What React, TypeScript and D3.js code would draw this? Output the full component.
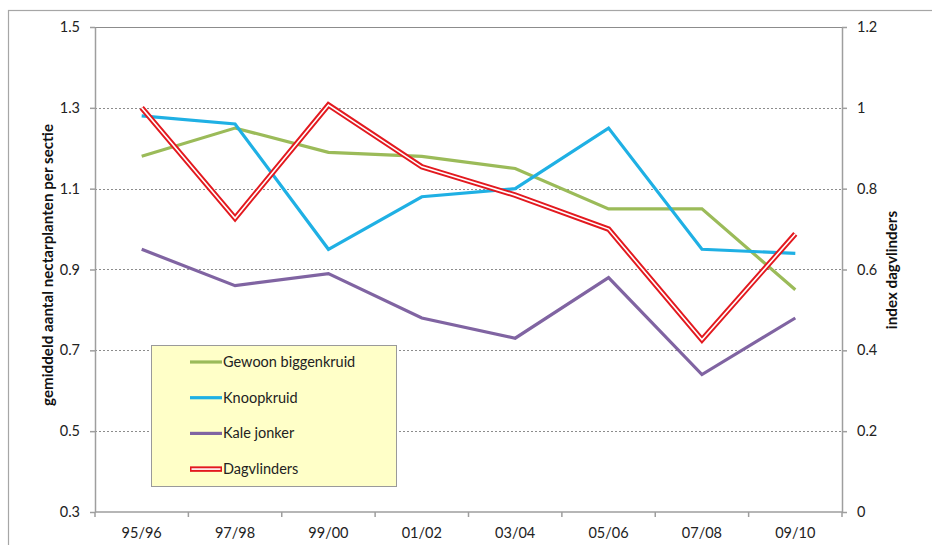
import React, { useEffect, useRef } from "react";
import * as d3 from "d3";

const seasons = ["95/96", "97/98", "99/00", "01/02", "03/04", "05/06", "07/08", "09/10"];
const gewoonBiggenkruid = [1.18, 1.25, 1.19, 1.18, 1.15, 1.05, 1.05, 0.85];
const knoopkruid = [1.28, 1.26, 0.95, 1.08, 1.1, 1.25, 0.95, 0.94];
const kaleJonker = [0.95, 0.86, 0.89, 0.78, 0.73, 0.88, 0.64, 0.78];
const dagvlinders = [1.0, 0.727, 1.007, 0.854, 0.784, 0.7, 0.426, 0.688];
const leftTicks = [0.3, 0.5, 0.7, 0.9, 1.1, 1.3, 1.5];
const rightTicks = [0, 0.2, 0.4, 0.6, 0.8, 1, 1.2];

const W = 932;
const H = 545;
const FONT = "Lato, 'Open Sans', sans-serif";
const FS = 14.5;

export default function App() {
  const ref = useRef<SVGSVGElement>(null);

  useEffect(() => {
    const svg = d3.select(ref.current);
    svg.selectAll("*").remove();

    const left = 95, right = 842, top = 27, bottom = 512;
    const x = d3.scaleBand<string>().domain(seasons).range([left, right]);
    const yL = d3.scaleLinear().domain([0.3, 1.5]).range([bottom, top]);
    const yR = d3.scaleLinear().domain([0, 1.2]).range([bottom, top]);

    svg.append("rect").attr("x", 0).attr("y", 0).attr("width", W).attr("height", H).attr("fill", "#fff");
    // chart frame
    svg.append("rect").attr("x", 8.5).attr("y", 10.5).attr("width", 960).attr("height", 600)
      .attr("fill", "none").attr("stroke", "#a6a6a6").attr("stroke-width", 1.2);

    // gridlines
    svg.append("g").selectAll("line").data(leftTicks.slice(1, -1)).join("line")
      .attr("x1", left).attr("x2", right)
      .attr("y1", (d) => Math.round(yL(d)) + 0.5).attr("y2", (d) => Math.round(yL(d)) + 0.5)
      .attr("stroke", "#8c8c8c").attr("stroke-width", 1).attr("stroke-dasharray", "2,2");
    svg.append("line").attr("x1", left).attr("x2", right).attr("y1", top + 0.5).attr("y2", top + 0.5)
      .attr("stroke", "#8c8c8c").attr("stroke-width", 1);

    const axisColor = "#9e9e9e";
    // left axis
    const gl = svg.append("g").attr("transform", `translate(${left},0)`)
      .call(d3.axisLeft(yL).tickValues(leftTicks).tickFormat(d3.format(".1f")).tickSize(5).tickSizeOuter(0));
    // right axis
    const gr = svg.append("g").attr("transform", `translate(${right},0)`)
      .call(d3.axisRight(yR).tickValues(rightTicks).tickFormat((d) => String(+d)).tickSize(5).tickSizeOuter(0));
    // bottom axis
    const xTicks = d3.range(seasons.length + 1).map((i) => left + i * x.bandwidth());
    const gb = svg.append("g").attr("transform", `translate(0,${bottom})`);
    gb.append("line").attr("x1", left).attr("x2", right).attr("stroke", axisColor).attr("stroke-width", 1.5);
    gb.selectAll("line.t").data(xTicks).join("line").attr("class", "t")
      .attr("x1", (d) => d).attr("x2", (d) => d).attr("y1", 0).attr("y2", 5)
      .attr("stroke", axisColor).attr("stroke-width", 1.5);
    gb.selectAll("text").data(seasons).join("text")
      .attr("x", (d) => (x(d) as number) + x.bandwidth() / 2).attr("y", 26)
      .attr("text-anchor", "middle").attr("font-family", FONT).attr("font-size", FS).attr("fill", "#222")
      .text((d) => d);

    [gl, gr].forEach((g) => {
      g.select(".domain").attr("stroke", axisColor).attr("stroke-width", 1.5);
      g.selectAll(".tick line").attr("stroke", axisColor).attr("stroke-width", 1.5);
      g.selectAll(".tick text").attr("font-family", FONT).attr("font-size", FS).attr("fill", "#222");
    });
    gl.selectAll(".tick text").attr("x", -15);
    gr.selectAll(".tick text").attr("x", 15);

    // axis titles
    svg.append("text").attr("transform", `translate(53,265) rotate(-90)`)
      .attr("text-anchor", "middle").attr("font-family", FONT).attr("font-size", 15.2).attr("font-weight", "bold")
      .attr("fill", "#111").text("gemiddeld aantal nectarplanten per sectie");
    svg.append("text").attr("transform", `translate(897,270) rotate(-90)`)
      .attr("text-anchor", "middle").attr("font-family", FONT).attr("font-size", 15.2).attr("font-weight", "bold")
      .attr("fill", "#111").text("index dagvlinders");

    const cx = (i: number) => (x(seasons[i]) as number) + x.bandwidth() / 2;
    const lineL = d3.line<number>().x((_, i) => cx(i)).y((d) => yL(d));
    const lineR = d3.line<number>().x((_, i) => cx(i)).y((d) => yR(d));

    const series = [
      { data: gewoonBiggenkruid, color: "#9bbb59" },
      { data: knoopkruid, color: "#1fb0e4" },
      { data: kaleJonker, color: "#8064a2" },
    ];
    series.forEach((s) => {
      svg.append("path").attr("d", lineL(s.data)).attr("fill", "none")
        .attr("stroke", s.color).attr("stroke-width", 3.2).attr("stroke-linejoin", "miter");
    });
    svg.append("path").attr("d", lineR(dagvlinders)).attr("fill", "none")
      .attr("stroke", "#e3191f").attr("stroke-width", 5.5).attr("stroke-linejoin", "miter");
    svg.append("path").attr("d", lineR(dagvlinders)).attr("fill", "none")
      .attr("stroke", "#fff").attr("stroke-width", 1.6).attr("stroke-linejoin", "miter");

    // legend
    const lg = svg.append("g").attr("transform", "translate(151,345)");
    lg.append("rect").attr("x", 0.5).attr("y", 0.5).attr("width", 245).attr("height", 141)
      .attr("fill", "#ffffc8").attr("stroke", "#9a9a9a").attr("stroke-width", 1);
    const items = [
      { name: "Gewoon biggenkruid", color: "#9bbb59", double: false },
      { name: "Knoopkruid", color: "#1fb0e4", double: false },
      { name: "Kale jonker", color: "#8064a2", double: false },
      { name: "Dagvlinders", color: "#e3191f", double: true },
    ];
    items.forEach((it, i) => {
      const yy = 17 + i * 35.7;
      lg.append("line").attr("x1", 39).attr("x2", 71).attr("y1", yy).attr("y2", yy)
        .attr("stroke", it.color).attr("stroke-width", it.double ? 5.5 : 3.2);
      if (it.double) {
        lg.append("line").attr("x1", 40.5).attr("x2", 69.5).attr("y1", yy).attr("y2", yy)
          .attr("stroke", "#fff").attr("stroke-width", 1.6);
      }
      lg.append("text").attr("x", 72).attr("y", yy + 5).attr("font-family", FONT).attr("font-size", FS)
        .attr("fill", "#222").text(it.name);
    });
  }, []);

  return (
    <svg ref={ref} width={W} height={H} style={{ position: "absolute", left: 0, top: 0 }} />
  );
}
